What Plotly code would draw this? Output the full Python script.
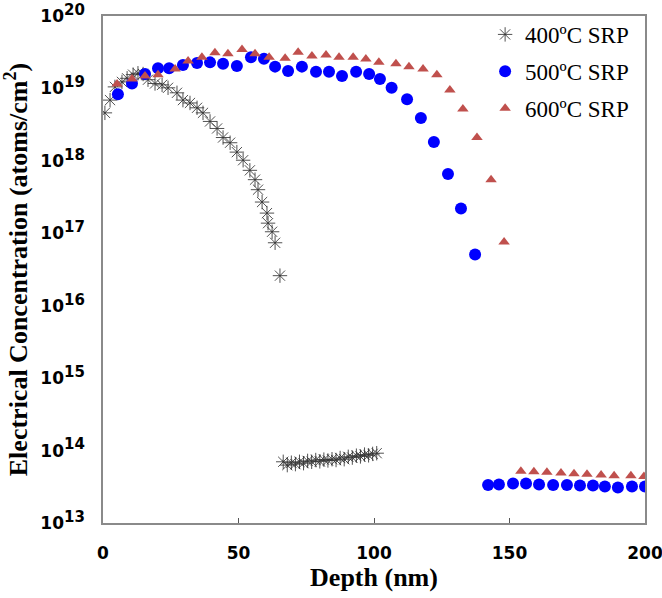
import plotly.graph_objects as go

# 400 C SRP (asterisks)
d400 = [0.7, 2.6, 4.4, 7.0, 8.9, 11.1, 12.9, 14.8, 16.6, 19.2, 21.8, 24.0, 27.3, 29.5,
        32.1, 34.7, 36.9, 39.5, 42.1, 44.3, 46.9, 49.4, 51.7, 54.2, 56.1, 57.2, 58.7,
        60.5, 60.9, 62.4, 63.5, 65.3,
        66.5, 68, 69.5, 71, 72.5, 74, 75.5, 77, 78.5, 80, 81.5, 83, 84.5, 86, 87.5,
        89, 90.5, 92, 93.5, 95, 96.5, 98, 99.5, 101]
c400 = [4.6e18, 6.9e18, 1.05e19, 1.23e19, 1.38e19, 1.55e19, 1.62e19, 1.58e19, 1.32e19,
        1.17e19, 1.12e19, 1.02e19, 8.7e18, 6.9e18, 6.3e18, 5.4e18, 4.6e18, 3.5e18,
        2.8e18, 2.1e18, 1.78e18, 1.32e18, 1.02e18, 7.4e17, 5.5e17, 4.0e17, 2.7e17,
        1.9e17, 1.38e17, 1.05e17, 7.4e16, 2.6e16,
        7.0e13, 6.3e13, 6.8e13, 6.5e13, 7.0e13, 6.7e13, 7.2e13, 7.0e13, 7.4e13, 7.1e13,
        7.5e13, 7.3e13, 7.6e13, 7.4e13, 7.9e13, 7.6e13, 8.2e13, 8.0e13, 8.5e13, 8.3e13,
        8.8e13, 8.6e13, 9.0e13, 9.2e13]

# 500 C SRP (circles)
d500 = [5.5, 10.7, 15.5, 20.3, 24.4, 29.5, 34.7, 39.5, 44.3, 49.4, 54.6, 59.4, 63.5,
        68.3, 73.4, 78.6, 83.4, 88.2, 93.4, 98.2, 102.2, 106.5, 112.2, 117.3, 122.1,
        127.3, 132.1, 137.3,
        142.1, 146.1, 151.3, 156.1, 160.9, 166.1, 171.2, 176.0, 180.8, 185.2, 190.0,
        195.2, 200.0]
c500 = [8.3e18, 1.17e19, 1.58e19, 1.9e19, 1.9e19, 2.1e19, 2.24e19, 2.29e19, 2.19e19,
        2.04e19, 2.7e19, 2.57e19, 2.0e19, 1.74e19, 2.0e19, 1.7e19, 1.7e19, 1.48e19,
        1.7e19, 1.58e19, 1.35e19, 1.02e19, 7.1e18, 3.9e18, 1.82e18, 6.6e17, 2.2e17,
        5.1e16,
        3.35e13, 3.4e13, 3.5e13, 3.5e13, 3.4e13, 3.35e13, 3.35e13, 3.3e13, 3.3e13,
        3.2e13, 3.1e13, 3.2e13, 3.2e13]

# 600 C SRP (triangles)
d600 = [5.2, 10.7, 15.5, 20.3, 26.6, 31.4, 36.5, 41.3, 46.1, 51.3, 56.1, 61.3, 67.2,
        72.0, 77.1, 82.3, 87.1, 92.3, 97.0, 101.8, 108.1, 112.9, 118.1, 123.2, 128.0,
        132.8, 138.0, 143.2, 148.0,
        154.2, 159.0, 163.8, 169.0, 173.8, 178.6, 183.8, 188.6, 194.8, 199.6]
c600 = [1.15e19, 1.35e19, 1.48e19, 1.55e19, 1.86e19, 2.4e19, 2.7e19, 3.1e19, 3.0e19,
        3.45e19, 3.0e19, 2.7e19, 2.6e19, 3.15e19, 2.8e19, 2.9e19, 2.7e19, 2.7e19,
        2.55e19, 2.3e19, 2.2e19, 2.0e19, 1.86e19, 1.55e19, 9.5e18, 5.2e18, 2.1e18,
        5.5e17, 7.6e16,
        5.2e13, 5.1e13, 5.0e13, 4.9e13, 4.8e13, 4.7e13, 4.6e13, 4.5e13, 4.5e13, 4.4e13]

names = ["400ºC SRP", "500ºC SRP", "600ºC SRP"]
ytick_vals = [1e13, 1e14, 1e15, 1e16, 1e17, 1e18, 1e19, 1e20]
ytick_exp = ["13", "14", "15", "16", "17", "18", "19", "20"]
ytick_text = ["10<sup><span style='font-size:15px'>%s</span></sup>" % e for e in ytick_exp]
xtick_vals = [0, 50, 100, 150, 200]

star_col = "rgba(50,50,50,0.85)"
fig = go.Figure()
fig.add_trace(go.Scatter(x=d400, y=c400, mode="markers", name=names[0], legendgroup="a",
                         marker=dict(symbol="asterisk-open", size=12, color=star_col,
                                     line=dict(color=star_col, width=1))))
fig.add_trace(go.Scatter(x=d500, y=c500, mode="markers", name=names[1], legendgroup="b",
                         marker=dict(symbol="circle", size=12, color="#0000ff",
                                     line=dict(width=0))))
fig.add_trace(go.Scatter(x=d600, y=c600, mode="markers", name=names[2], legendgroup="c",
                         marker=dict(symbol="triangle-up", size=10, color="#c0504d",
                                     line=dict(width=0))))

fig.update_layout(
    width=662, height=598,
    margin=dict(l=103, r=17, t=16, b=75, autoexpand=False),
    paper_bgcolor="white", plot_bgcolor="white",
    showlegend=True,
    legend=dict(x=0.705, y=1.006, xanchor="left", yanchor="top",
                font=dict(family="Liberation Serif", size=23, color="black"),
                bgcolor="rgba(0,0,0,0)", tracegroupgap=4, itemsizing="trace"),
    xaxis=dict(range=[0, 200], tickvals=xtick_vals, ticks="inside", ticklen=5,
               tickcolor="#555", showgrid=False, zeroline=False,
               showline=True, linecolor="#8a8a8a", linewidth=1.5, mirror=True,
               tickfont=dict(family="DejaVu Sans", size=17, color="black", weight="bold"),
               ticklabelstandoff=14, ticklabeloverflow="allow",
               title=dict(text="Depth (nm)", standoff=4,
                          font=dict(family="Liberation Serif", size=26, color="black",
                                    weight="bold"))),
    yaxis=dict(type="log", range=[13, 20], tickvals=ytick_vals, ticktext=ytick_text,
               ticks="", showgrid=False, zeroline=False,
               showline=True, linecolor="#8a8a8a", linewidth=1.5, mirror=True,
               tickfont=dict(family="DejaVu Sans", size=17, color="black", weight="bold"),
               ticklabelstandoff=13,
               title=dict(text="Electrical Concentration (atoms/cm<sup>2</sup>)", standoff=6,
                          font=dict(family="Liberation Serif", size=26, color="black",
                                    weight="bold"))),
)

fig.write_html("out.html")
